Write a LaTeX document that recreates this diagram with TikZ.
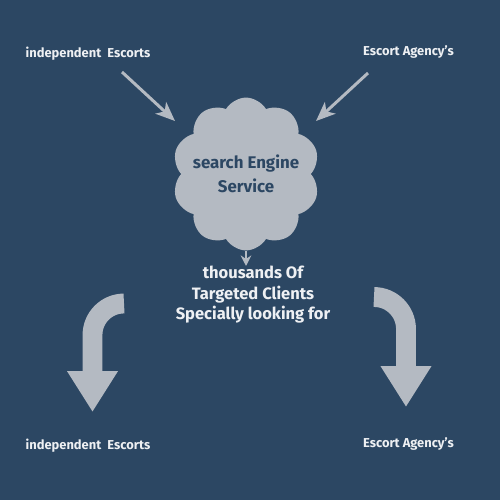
\documentclass[tikz,border=0pt]{standalone}
\usepackage{fontspec}
\setmainfont{Fira Sans}
\usetikzlibrary{arrows.meta, positioning, shapes.symbols}
\definecolor{bgblue}{RGB}{44,71,99}
\definecolor{cloudgray}{RGB}{180,186,194}
\definecolor{labelwhite}{RGB}{238,240,243}

\begin{document}
\begin{tikzpicture}[
    x=0.02cm, y=-0.02cm,
    tag/.style={font=\bfseries\fontsize{7.35}{9}\selectfont, text=labelwhite, inner sep=0pt},
    midtext/.style={font=\bfseries\fontsize{9.4}{11.7}\selectfont, text=labelwhite, align=center, inner sep=0pt},
    cloudtext/.style={font=\bfseries\fontsize{9.6}{13.6}\selectfont, text=bgblue, align=center, inner sep=0pt},
    cloudbox/.style={cloud, cloud puffs=10, cloud puff arc=120, aspect=1, fill=cloudgray, minimum width=84pt, minimum height=87pt, inner sep=0pt},
    inarrow/.style={-{Stealth[length=11pt, width=9pt, inset=3pt]}, line width=1.7pt, cloudgray},
    smallarrow/.style={-{Stealth[length=6pt, width=6pt, inset=2pt]}, line width=1.1pt, cloudgray},
    bigarrow/.style={-{Triangle[length=23.2pt, width=27.2pt]}, line width=11.3pt, cloudgray}
]
\fill[bgblue] (0,0) rectangle (500,500);
\useasboundingbox (0,0) rectangle (500,500);

% labels
\node[tag] (indtop) at (88,54) {independent\ \ Escorts};
\node[tag] (agtop) at (408.5,52) {Escort Agency's};
\node[tag] (indbot) at (88,446) {independent\ \ Escorts};
\node[tag] (agbot) at (408.5,444) {Escort Agency's};

% cloud
\node[cloudbox] (engine) at (246,174) {};
\node[cloudtext] (enginetext) at (engine.center) {search Engine\\Service};
\node[midtext] (clients) at (253,295) {thousands Of\\Targeted Clients\\Specially looking for};

% incoming arrows
\coordinate (inL) at (122,72);
\coordinate (inLtip) at (175,121);
\coordinate (inR) at (368,73);
\coordinate (inRtip) at (316,121);
\draw[inarrow] (inL) -- (inLtip);
\draw[inarrow] (inR) -- (inRtip);
\draw[smallarrow] (engine.south) -- (engine.south |- clients.north);

% outgoing arrows
\coordinate (outL) at (124,303.5);
\coordinate (outLtip) at (92.5,412);
\coordinate (outR) at (374,297);
\coordinate (outRtip) at (406,407);
\draw[bigarrow] (outL) arc (270:180:31.5) -- (outLtip);
\draw[bigarrow] (outR) arc (270:360:32) -- (outRtip);
\end{tikzpicture}
\end{document}
